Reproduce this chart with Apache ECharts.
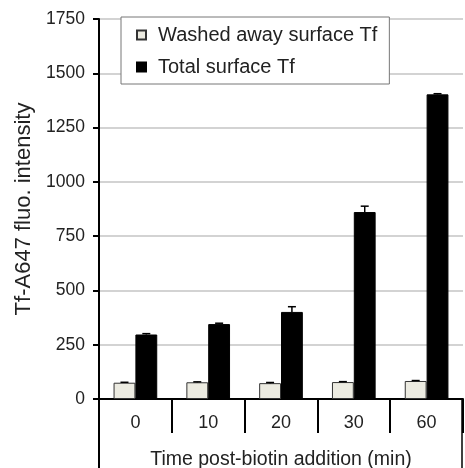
<!DOCTYPE html>
<html>
<head>
<meta charset="utf-8">
<script src="https://cdn.jsdelivr.net/npm/echarts@6/dist/echarts.min.js"></script>
<style>html,body{margin:0;padding:0;background:#fff;}#c{width:465px;height:468px;}</style>
</head>
<body>
<div id="c"></div>
<script>
var categories = ['0', '10', '20', '30', '60'];
var washed = [75, 77, 73, 78, 83];
var washedErr = [2, 2, 3, 2, 2];
var total = [297, 345, 401, 861, 1403];
var totalErr = [4, 4, 24, 27, 3];
var yTicks = [0, 250, 500, 750, 1000, 1250, 1500, 1750];

var FONT = 'Arial, "Liberation Sans", sans-serif';
var GL = 99, GR = 2, GT = 19, GB = 69;
var W = 465, H = 468;
var gap = 0.40;

function errRender(side) {
  return function (params, api) {
    var i = api.value(0);
    var v = api.value(1);
    var e = api.value(2);
    var band = api.size([1, 0])[0];
    var bw = band * (1 - gap) / 2;
    var c = api.coord([i, v]);
    var x = c[0] + side * bw / 2;
    var top = api.coord([i, v + e])[1];
    var cap = 4;
    return {
      type: 'group',
      children: [
        {type: 'line', shape: {x1: x, y1: c[1], x2: x, y2: top}, style: {stroke: '#000', lineWidth: 1.5}},
        {type: 'line', shape: {x1: x - cap, y1: top, x2: x + cap, y2: top}, style: {stroke: '#000', lineWidth: 1.5}}
      ]
    };
  };
}

var chart = echarts.init(document.getElementById('c'));
chart.setOption({
  animation: false,
  backgroundColor: '#fff',
  textStyle: {fontFamily: FONT},
  grid: {left: GL, right: GR, top: GT, bottom: GB, containLabel: false, outerBoundsMode: 'none'},
  legend: {
    orient: 'vertical',
    left: 121, top: 17,
    padding: [8, 12, 7, 15],
    backgroundColor: '#fff',
    borderColor: '#777',
    borderWidth: 1,
    icon: 'rect',
    itemWidth: 9, itemHeight: 9,
    itemGap: 12,
    itemTextGap: 5,
    formatter: '{a|{name}}',
    textStyle: {
      fontSize: 20, color: '#222', fontFamily: FONT, lineHeight: 20,
      rich: {a: {fontSize: 20, color: '#222', fontFamily: FONT, lineHeight: 20, padding: [0, 0, 0, 7]}}
    },
    data: ['Washed away surface Tf', 'Total surface Tf']
  },
  xAxis: {
    type: 'category',
    data: categories,
    name: 'Time post-biotin addition (min)',
    nameLocation: 'middle',
    nameGap: 51,
    nameTextStyle: {fontSize: 19.5, color: '#222', fontFamily: FONT},
    axisLine: {lineStyle: {color: '#000', width: 2}},
    axisTick: {show: true, alignWithLabel: false, length: 34, lineStyle: {color: '#000', width: 2}},
    axisLabel: {fontSize: 18, color: '#222', margin: 15, fontFamily: FONT},
    splitLine: {show: false}
  },
  yAxis: {
    type: 'value',
    min: 0, max: 1750, interval: 250,
    name: 'Tf-A647 fluo. intensity',
    nameLocation: 'middle',
    nameGap: 63,
    nameRotate: 90,
    nameTextStyle: {fontSize: 22, color: '#222', fontFamily: FONT},
    axisLine: {show: true, lineStyle: {color: '#000', width: 2}},
    axisTick: {show: true, length: 6, lineStyle: {color: '#000', width: 2}},
    axisLabel: {fontSize: 17.5, color: '#222', margin: 14, fontFamily: FONT,
      formatter: function (v) { return yTicks.indexOf(v) >= 0 ? String(v) : ''; }},
    splitLine: {show: true, lineStyle: {color: '#c4c4c4', width: 1.5}}
  },
  series: [
    {
      name: 'Washed away surface Tf',
      type: 'bar',
      data: washed,
      barGap: '0%',
      barCategoryGap: (gap * 100) + '%',
      itemStyle: {color: '#ecebe1', borderColor: '#333', borderWidth: 1}
    },
    {
      name: 'Total surface Tf',
      type: 'bar',
      data: total,
      barGap: '0%',
      barCategoryGap: (gap * 100) + '%',
      itemStyle: {color: '#000', borderColor: '#000', borderWidth: 1}
    },
    {
      type: 'custom',
      renderItem: errRender(-1),
      data: washed.map(function (v, i) { return [i, v, washedErr[i]]; }),
      z: 5, silent: true
    },
    {
      type: 'custom',
      renderItem: errRender(1),
      data: total.map(function (v, i) { return [i, v, totalErr[i]]; }),
      z: 5, silent: true
    }
  ],
  graphic: [
    {type: 'line', shape: {x1: GL, y1: H - GB, x2: GL, y2: H}, style: {stroke: '#000', lineWidth: 2}},
    {type: 'line', shape: {x1: W - GR - 1, y1: H - GB, x2: W - GR - 1, y2: H}, style: {stroke: '#000', lineWidth: 1.5}}
  ]
});
</script>
</body>
</html>
